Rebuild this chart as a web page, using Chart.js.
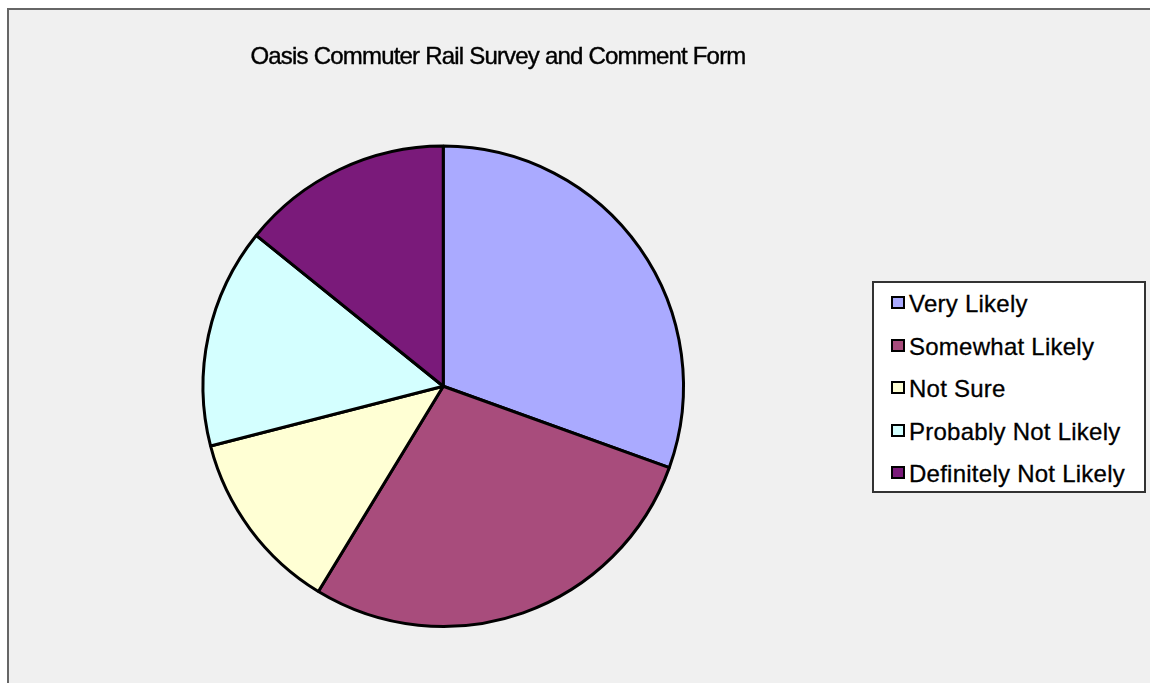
<!DOCTYPE html>
<html>
<head>
<meta charset="utf-8">
<title>Oasis Commuter Rail Survey</title>
<script src="https://cdn.jsdelivr.net/npm/chart.js@4.4.0/dist/chart.umd.min.js"></script>
<style>
    body {
        margin: 0;
        width: 1150px;
        height: 683px;
        overflow: hidden;
        position: relative;
        background: #ffffff;
        font-family: "Liberation Sans", Arial, sans-serif;
    }
    #frame {
        position: absolute;
        left: 7px;
        top: 8px;
        width: 1200px;
        height: 720px;
        background: #f0f0f0;
        border-left: 2px solid #666666;
        border-top: 2px solid #666666;
    }
    #surveyChart {
        position: absolute;
        left: 0;
        top: 0;
    }
    #chartTitle {
        position: absolute;
        left: 0;
        top: 44px;
        width: 996px;
        text-align: center;
        font-size: 24px;
        line-height: 24px;
        letter-spacing: -0.8px;
        color: #000000;
        -webkit-text-stroke: 0.4px #000000;
        white-space: nowrap;
    }
    #legend {
        position: absolute;
        left: 872px;
        top: 281px;
        width: 274px;
        height: 212px;
        box-sizing: border-box;
        background: #ffffff;
        border: 2px solid #333333;
        padding: 0 0 0 17px;
    }
    #legend ul {
        list-style: none;
        margin: 0;
        padding: 0;
    }
    #legend li {
        font-size: 24px;
        line-height: 42.6px;
        letter-spacing: 0.25px;
        white-space: nowrap;
        color: #000000;
        -webkit-text-stroke: 0.3px #000000;
    }
    #legend .swatch {
        display: inline-block;
        box-sizing: border-box;
        width: 14px;
        height: 13px;
        border: 2px solid #000000;
        margin: 0 4px 3px 0;
        vertical-align: baseline;
    }
</style>
</head>
<body>
<div id="frame"></div>
<canvas id="surveyChart" width="1150" height="683"></canvas>
<div id="chartTitle">Oasis Commuter Rail Survey and Comment Form</div>
<div id="legend"></div>

<script>
// Survey answers and their share of responses (%)
const answers = ['Very Likely', 'Somewhat Likely', 'Not Sure', 'Probably Not Likely', 'Definitely Not Likely'];
const shares = [30.5, 28.2, 12.3, 14.8, 14.2];
const sliceColors = ['#AAAAFF', '#A84C7C', '#FFFFD4', '#D4FFFF', '#7A1A7A'];

// Build the boxed legend from the chart's own legend items
function renderLegend(chart) {
    const box = document.getElementById('legend');
    const list = document.createElement('ul');
    const items = chart.options.plugins.legend.labels.generateLabels(chart);
    items.forEach(item => {
        const li = document.createElement('li');
        const swatch = document.createElement('span');
        swatch.className = 'swatch';
        swatch.style.background = item.fillStyle;
        li.appendChild(swatch);
        li.appendChild(document.createTextNode(item.text));
        list.appendChild(li);
    });
    box.innerHTML = '';
    box.appendChild(list);
}

const ctx = document.getElementById('surveyChart');
const surveyChart = new Chart(ctx, {
    type: 'pie',
    data: {
        labels: answers,
        datasets: [{
            data: shares,
            backgroundColor: sliceColors,
            borderColor: '#000000',
            borderWidth: 3
        }]
    },
    options: {
        responsive: false,
        animation: false,
        layout: {
            padding: { left: 201.5, top: 144, right: 465, bottom: 54.5 }
        },
        plugins: {
            legend: { display: false },
            title: { display: false },
            tooltip: { enabled: false }
        }
    }
});

renderLegend(surveyChart);
</script>
</body>
</html>
